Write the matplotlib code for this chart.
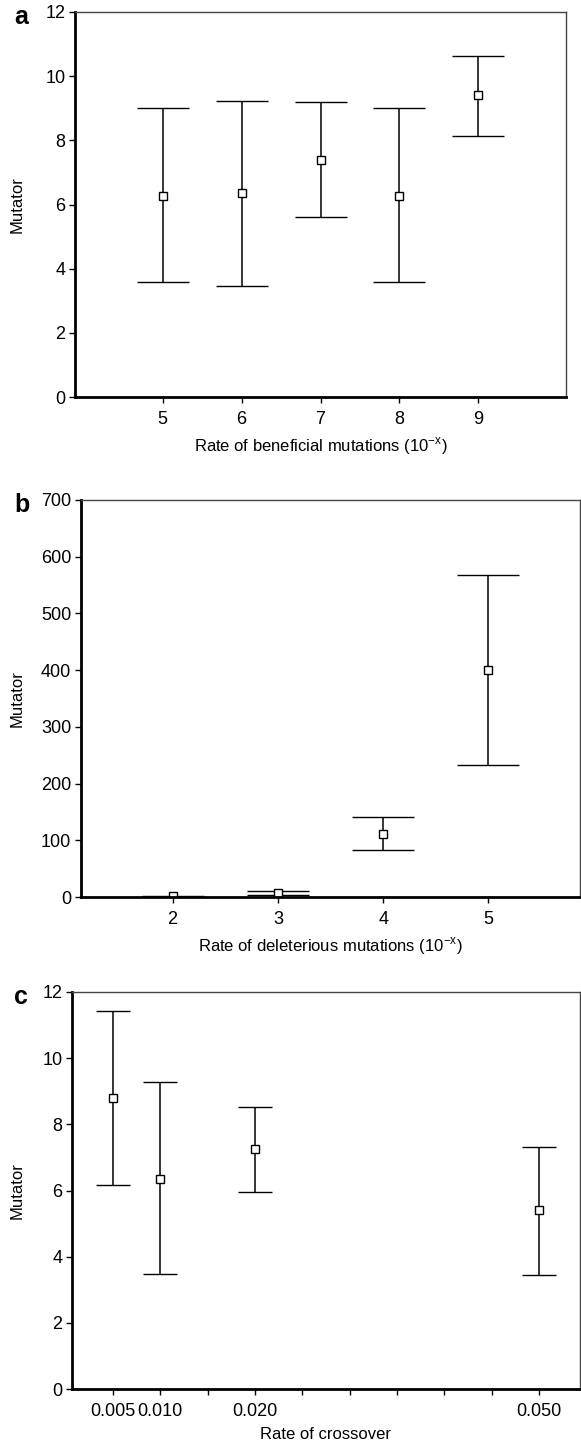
"""
Mutator level vs mutation / crossover rates
Three stacked error-bar panels
"""

import matplotlib.pyplot as plt

plt.rcParams["font.family"] = ["Liberation Sans", "DejaVu Sans"]

# Panel a: rate of beneficial mutations
ben_rate = [5, 6, 7, 8, 9]
ben_mean = [6.27, 6.35, 7.40, 6.28, 9.41]
ben_low = [3.58, 3.47, 5.60, 3.58, 8.15]
ben_high = [9.02, 9.22, 9.20, 9.02, 10.64]

# Panel b: rate of deleterious mutations
del_rate = [2, 3, 4, 5]
del_mean = [1, 7, 111, 401]
del_low = [0, 4, 82, 233]
del_high = [2, 10, 141, 568]

# Panel c: rate of crossover
cross_rate = [0.005, 0.010, 0.020, 0.050]
cross_mean = [8.80, 6.35, 7.25, 5.41]
cross_low = [6.17, 3.47, 5.94, 3.44]
cross_high = [11.43, 9.27, 8.51, 7.32]
cross_ticks = [0.005, 0.010, 0.015, 0.020, 0.025, 0.030, 0.035, 0.040, 0.045, 0.050]
cross_labels = ["0.005", "0.010", "", "0.020", "", "", "", "", "", "0.050"]

W, H = 581, 1445
fig = plt.figure(figsize=(W / 100, H / 100), dpi=100)


def make_axes(left, right, top, bottom):
    return fig.add_axes([left / W, 1 - bottom / H, (right - left) / W, (bottom - top) / H])


def draw_panel(ax, x, mean, low, high, capsize):
    yerr = [[m - l for m, l in zip(mean, low)], [h - m for m, h in zip(mean, high)]]
    ax.errorbar(x, mean, yerr=yerr, fmt="s", color="black", ecolor="black",
                elinewidth=1.1, capsize=capsize, capthick=1.1,
                markersize=6, markerfacecolor="white", markeredgecolor="black",
                markeredgewidth=1.0)
    for side in ["left", "bottom"]:
        ax.spines[side].set_linewidth(2.0)
    for side in ["top", "right"]:
        ax.spines[side].set_linewidth(1.0)
        ax.spines[side].set_color("#444444")
    ax.tick_params(direction="out", length=4, width=1, labelsize=13)
    ax.tick_params(axis="x", pad=6)
    ax.tick_params(axis="y", pad=3)


def finish(ax, letter, left_px, top_px, width_px, xlabel):
    ax.set_xlabel(xlabel, fontsize=12, labelpad=5)
    ax.set_ylabel("Mutator", fontsize=12)
    ax.yaxis.set_label_coords((25 - left_px) / width_px, 0.5)
    fig.text(14 / W, 1 - (top_px + 12) / H, letter, fontsize=18, fontweight="bold",
             ha="left", va="baseline")


# a
ax1 = make_axes(75, 566, 12, 397)
draw_panel(ax1, ben_rate, ben_mean, ben_low, ben_high, 19)
ax1.set_xlim(3.89, 10.11)
ax1.set_ylim(0, 12)
ax1.set_xticks(ben_rate)
ax1.set_yticks([0, 2, 4, 6, 8, 10, 12])
finish(ax1, "a", 75, 12, 491, "Rate of beneficial mutations (10$^{\\mathregular{-x}}$)")

# b
ax2 = make_axes(81, 580, 500, 897)
draw_panel(ax2, del_rate, del_mean, del_low, del_high, 22)
ax2.set_xlim(1.13, 5.87)
ax2.set_ylim(0, 700)
ax2.set_xticks(del_rate)
ax2.set_yticks(range(0, 701, 100))
finish(ax2, "b", 81, 500, 499, "Rate of deleterious mutations (10$^{\\mathregular{-x}}$)")

# c
ax3 = make_axes(72, 580, 992, 1389)
draw_panel(ax3, cross_rate, cross_mean, cross_low, cross_high, 12)
ax3.set_xlim(0.0007, 0.0543)
ax3.set_ylim(0, 12)
ax3.set_xticks(cross_ticks)
ax3.set_xticklabels(cross_labels)
ax3.set_yticks([0, 2, 4, 6, 8, 10, 12])
finish(ax3, "c", 72, 992, 508, "Rate of crossover")

fig.savefig("out.png", dpi=100)
plt.close(fig)
